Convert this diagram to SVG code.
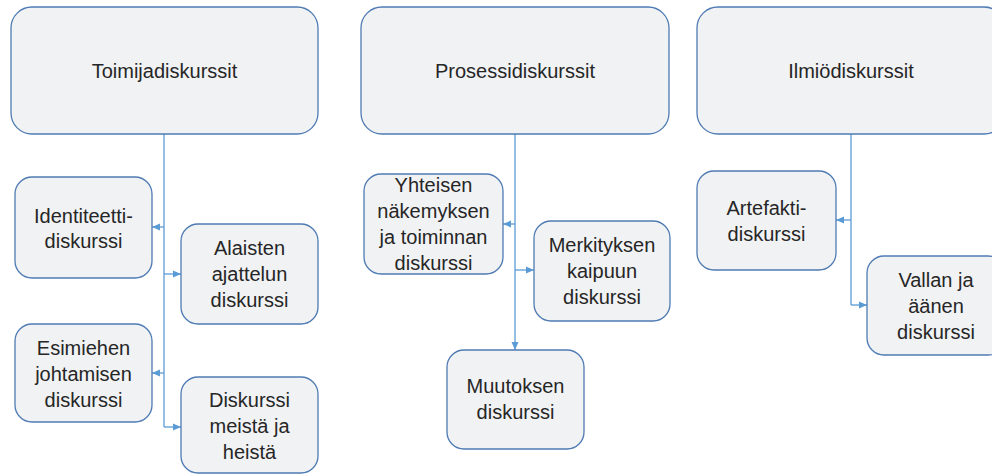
<svg xmlns="http://www.w3.org/2000/svg" width="992" height="475" viewBox="0 0 992 475">
  <defs>
    <style>
      .box { fill: #f1f2f4; stroke: #4f7bb3; stroke-width: 1.3; }
      .lbl { font-family: "Liberation Sans", Arial, sans-serif; font-size: 20px; fill: #262626; text-anchor: middle; }
      .conn { fill: none; stroke: #5b9bd5; stroke-width: 1.3; }
    </style>
    <marker id="arrow" viewBox="0 0 8 8" refX="8" refY="4" markerWidth="8" markerHeight="8" markerUnits="userSpaceOnUse" orient="auto">
      <path d="M0,0.5 L8,4 L0,7.5 Z" fill="#5b9bd5"/>
    </marker>
  </defs>

  <rect width="992" height="475" fill="#ffffff"/>

  <!-- connectors -->
  <g id="connectors">
    <path class="conn" d="M164,134 V427"/>
    <path class="conn" d="M164,227 H152" marker-end="url(#arrow)"/>
    <path class="conn" d="M164,274 H181" marker-end="url(#arrow)"/>
    <path class="conn" d="M164,373 H152" marker-end="url(#arrow)"/>
    <path class="conn" d="M164,427 H181" marker-end="url(#arrow)"/>

    <path class="conn" d="M515,134 V270"/>
    <path class="conn" d="M515,224 H503" marker-end="url(#arrow)"/>
    <path class="conn" d="M515,270 H534" marker-end="url(#arrow)"/>
    <path class="conn" d="M515,270 V350" marker-end="url(#arrow)"/>

    <path class="conn" d="M851,134 V305"/>
    <path class="conn" d="M851,220 H836" marker-end="url(#arrow)"/>
    <path class="conn" d="M851,305 H867" marker-end="url(#arrow)"/>
  </g>

  <!-- top level -->
  <g id="toimija">
    <rect class="box" x="11" y="7" width="307" height="127" rx="21"/>
    <text class="lbl" x="164.5" y="78">Toimijadiskurssit</text>
  </g>
  <g id="prosessi">
    <rect class="box" x="361" y="7" width="308" height="127" rx="21"/>
    <text class="lbl" x="515" y="78">Prosessidiskurssit</text>
  </g>
  <g id="ilmio">
    <rect class="box" x="697" y="7" width="308" height="127" rx="21"/>
    <text class="lbl" x="851" y="78">Ilmiödiskurssit</text>
  </g>

  <!-- Toimijadiskurssit children -->
  <g id="identiteetti">
    <rect class="box" x="15" y="177" width="137" height="101" rx="17"/>
    <text class="lbl" x="83.5" y="223">Identiteetti-</text>
    <text class="lbl" x="83.5" y="248">diskurssi</text>
  </g>
  <g id="alaisten">
    <rect class="box" x="181" y="224" width="137" height="100" rx="17"/>
    <text class="lbl" x="249.5" y="255">Alaisten</text>
    <text class="lbl" x="249.5" y="281">ajattelun</text>
    <text class="lbl" x="249.5" y="307">diskurssi</text>
  </g>
  <g id="esimiehen">
    <rect class="box" x="15" y="324" width="137" height="98" rx="17"/>
    <text class="lbl" x="83.5" y="355">Esimiehen</text>
    <text class="lbl" x="83.5" y="381">johtamisen</text>
    <text class="lbl" x="83.5" y="407">diskurssi</text>
  </g>
  <g id="meista">
    <rect class="box" x="181" y="377" width="137" height="96" rx="17"/>
    <text class="lbl" x="249.5" y="407">Diskurssi</text>
    <text class="lbl" x="249.5" y="433">meistä ja</text>
    <text class="lbl" x="249.5" y="459">heistä</text>
  </g>

  <!-- Prosessidiskurssit children -->
  <g id="yhteisen">
    <rect class="box" x="364" y="174" width="139" height="100" rx="17"/>
    <text class="lbl" x="433.5" y="192">Yhteisen</text>
    <text class="lbl" x="433.5" y="218">näkemyksen</text>
    <text class="lbl" x="433.5" y="244">ja toiminnan</text>
    <text class="lbl" x="433.5" y="270">diskurssi</text>
  </g>
  <g id="merkityksen">
    <rect class="box" x="534" y="221" width="136" height="100" rx="17"/>
    <text class="lbl" x="602" y="252">Merkityksen</text>
    <text class="lbl" x="602" y="278">kaipuun</text>
    <text class="lbl" x="602" y="304">diskurssi</text>
  </g>
  <g id="muutoksen">
    <rect class="box" x="447" y="350" width="137" height="99" rx="17"/>
    <text class="lbl" x="515.5" y="393">Muutoksen</text>
    <text class="lbl" x="515.5" y="419">diskurssi</text>
  </g>

  <!-- Ilmiödiskurssit children -->
  <g id="artefakti">
    <rect class="box" x="697" y="171" width="139" height="99" rx="17"/>
    <text class="lbl" x="766.5" y="215">Artefakti-</text>
    <text class="lbl" x="766.5" y="241">diskurssi</text>
  </g>
  <g id="vallan">
    <rect class="box" x="867" y="256" width="138" height="99" rx="17"/>
    <text class="lbl" x="936" y="287">Vallan ja</text>
    <text class="lbl" x="936" y="313">äänen</text>
    <text class="lbl" x="936" y="339">diskurssi</text>
  </g>
</svg>
